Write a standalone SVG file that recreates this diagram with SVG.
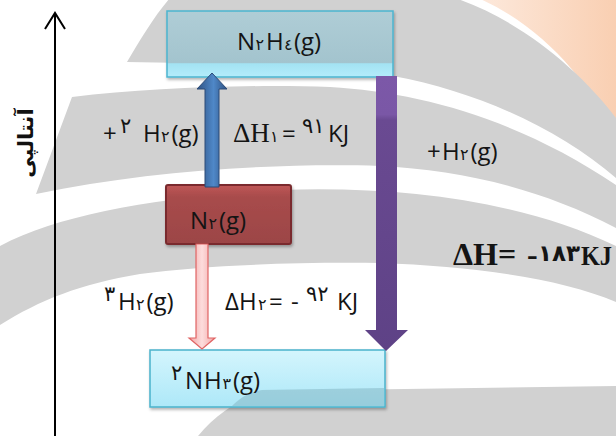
<svg xmlns="http://www.w3.org/2000/svg" width="616" height="436" viewBox="0 0 616 436">
<defs>
<style>
.band{fill:#d1d1d1}
.lbl{font-family:"Open Sans","DejaVu Sans",sans-serif;font-size:24px;fill:#141414}
.ar{font-family:"DejaVu Sans",sans-serif;font-size:16px}
.co{font-family:"DejaVu Sans",sans-serif;font-size:21px;letter-spacing:-1.5px}
.sr{font-family:"Liberation Serif",serif;font-size:27px}
.big{font-family:"Liberation Serif",serif;font-size:32px;font-weight:bold;fill:#141414}
.bigd{font-family:"DejaVu Sans",sans-serif;font-size:23px;font-weight:bold;letter-spacing:-2px}
.fa{font-family:"DejaVu Sans",sans-serif;font-size:21px;font-weight:bold;fill:#111}
</style>
<linearGradient id="gOr" x1="0" y1="0" x2="1" y2="0">
<stop offset="0" stop-color="#fde9dc"/><stop offset="1" stop-color="#f9cfb2"/>
</linearGradient>
<linearGradient id="gTop" x1="0" y1="0" x2="0" y2="1">
<stop offset="0" stop-color="#afcdd6"/><stop offset="0.78" stop-color="#a3c4ce"/>
<stop offset="0.8" stop-color="#a3e3f3"/><stop offset="1" stop-color="#b4ecfb"/>
</linearGradient>
<linearGradient id="gBot" x1="0" y1="0" x2="0" y2="1">
<stop offset="0" stop-color="#d4f5fd"/><stop offset="1" stop-color="#ade8f8"/>
</linearGradient>
<linearGradient id="gRed" x1="0" y1="0" x2="0" y2="1">
<stop offset="0" stop-color="#c05656"/><stop offset="0.2" stop-color="#a84c4c"/><stop offset="1" stop-color="#9c4546"/>
</linearGradient>
<linearGradient id="gBlue" x1="0" y1="0" x2="1" y2="0">
<stop offset="0" stop-color="#2f5283"/><stop offset="0.55" stop-color="#4f88c8"/><stop offset="1" stop-color="#2f5283"/>
</linearGradient>
<linearGradient id="gPink" x1="0" y1="0" x2="1" y2="0">
<stop offset="0" stop-color="#f2a4a4"/><stop offset="0.5" stop-color="#fddcdc"/><stop offset="1" stop-color="#f2a4a4"/>
</linearGradient>
<linearGradient id="gPur" x1="0" y1="0" x2="0" y2="1">
<stop offset="0" stop-color="#7c58a8"/><stop offset="0.14" stop-color="#7a57a6"/>
<stop offset="0.16" stop-color="#6a4a92"/><stop offset="1" stop-color="#5e4286"/>
</linearGradient>
<filter id="sh" x="-10%" y="-10%" width="120%" height="130%">
<feDropShadow dx="1" dy="2" stdDeviation="1.5" flood-opacity="0.3"/>
</filter>
</defs>

<g id="background">
<rect width="616" height="436" fill="#ffffff"/>
<path d="M478,-2 L616,-2 L616,140 C590,80 540,25 478,-2 Z" fill="url(#gOr)"/>
<path class="band" d="M127,62 C140,40 155,15 170,-2 L455,-2 C520,20 580,70 616,118 L616,178 C560,130 480,92 393,76 C300,66 200,63 127,62 Z"/>
<path class="band" d="M72,97 C150,88 250,84 330,87 C420,92 520,120 616,185 L616,228 C540,188 460,170 380,166 C280,163 150,170 36,194 Z"/>
<path class="band" d="M0,246 C60,215 150,198 280,190 C400,186 520,200 616,246 L616,302 C560,278 470,266 380,263 C280,262 200,266 140,274 C80,284 40,300 0,325 Z"/>
<path class="band" d="M198,436 C215,415 240,398 265,391 L616,386 L616,436 Z"/>
</g>

<g id="axis">
<line x1="55" y1="14" x2="55" y2="436" stroke="#000" stroke-width="2"/>
<polyline points="45,29 55,13 65,29" fill="none" stroke="#000" stroke-width="2"/>
<text class="fa" transform="translate(26,143) rotate(-90)" text-anchor="middle" dominant-baseline="central">آنتالپی</text>
</g>

<g id="node-n2h4">
<rect x="167" y="11" width="226" height="66" fill="url(#gTop)" stroke="#4cb5cf" stroke-width="1.5" filter="url(#sh)"/>
<text class="lbl" y="50"><tspan x="237">N</tspan><tspan class="ar" x="255.5">٢</tspan><tspan x="266">H</tspan><tspan class="ar" x="284">٤</tspan><tspan x="294">(g)</tspan></text>
</g>

<g id="node-n2">
<rect x="166" y="185" width="125" height="59" rx="2" fill="url(#gRed)" stroke="#7a2c2e" stroke-width="2" filter="url(#sh)"/>
<text class="lbl" y="229"><tspan x="190">N</tspan><tspan class="ar" x="208.5">۲</tspan><tspan x="219">(g)</tspan></text>
</g>

<g id="node-nh3">
<rect x="150" y="350" width="235" height="57" fill="url(#gBot)" stroke="#4ab3cb" stroke-width="1.5" filter="url(#sh)"/>
<path d="M232,406 C240,398 250,392 262,390 L384,388 L384,406 Z" fill="#7fb2c0" opacity="0.5"/>
<text class="lbl" y="389"><tspan class="co" x="171" y="380">۲</tspan><tspan x="185" y="389">N</tspan><tspan x="204">H</tspan><tspan class="ar" x="222.5">۳</tspan><tspan x="233">(g)</tspan></text>
</g>

<g id="connectors">
<path d="M205,187 L205,89 L197,89 L212,73 L227,89 L219,89 L219,187 Z" fill="url(#gBlue)" stroke="#2c4b77" stroke-width="1"/>
<path d="M196,244 L196,338 L189,338 L202,349 L215,338 L208,338 L208,244 Z" fill="url(#gPink)" stroke="#e06464" stroke-width="1.2"/>
<path d="M376,76 L376,330 L365,330 L386,351 L408,330 L397,330 L397,76 Z" fill="url(#gPur)"/>
</g>

<g id="labels">
<text class="lbl" y="142"><tspan x="103">+</tspan><tspan class="co" x="120" y="133">۲</tspan><tspan x="143" y="142">H</tspan><tspan class="ar" x="161">۲</tspan><tspan x="171.5">(g)</tspan></text>
<text class="lbl" y="142"><tspan class="sr" x="233">ΔH</tspan><tspan class="ar" x="270">۱</tspan><tspan x="282">=</tspan><tspan class="co" x="302" y="133">۹۱</tspan><tspan x="328" y="142">KJ</tspan></text>
<text class="lbl" y="160"><tspan x="427">+</tspan><tspan x="442">H</tspan><tspan class="ar" x="460">۲</tspan><tspan x="470.5">(g)</tspan></text>
<text class="lbl" y="310"><tspan class="co" x="104" y="301">۳</tspan><tspan x="118" y="310">H</tspan><tspan class="ar" x="136">۲</tspan><tspan x="146.5">(g)</tspan></text>
<text class="lbl" y="310"><tspan x="225">ΔH</tspan><tspan class="ar" x="258">۲</tspan><tspan x="269">=</tspan><tspan x="291">-</tspan><tspan class="co" x="306" y="301">۹۲</tspan><tspan x="337" y="310">KJ</tspan></text>
<text class="big" y="265"><tspan x="453">ΔH=</tspan><tspan x="527">-</tspan><tspan class="bigd" x="538" y="261">۱۸۳</tspan><tspan x="581" y="265" style="font-size:27px" textLength="31" lengthAdjust="spacingAndGlyphs">KJ</tspan></text>
</g>
</svg>
